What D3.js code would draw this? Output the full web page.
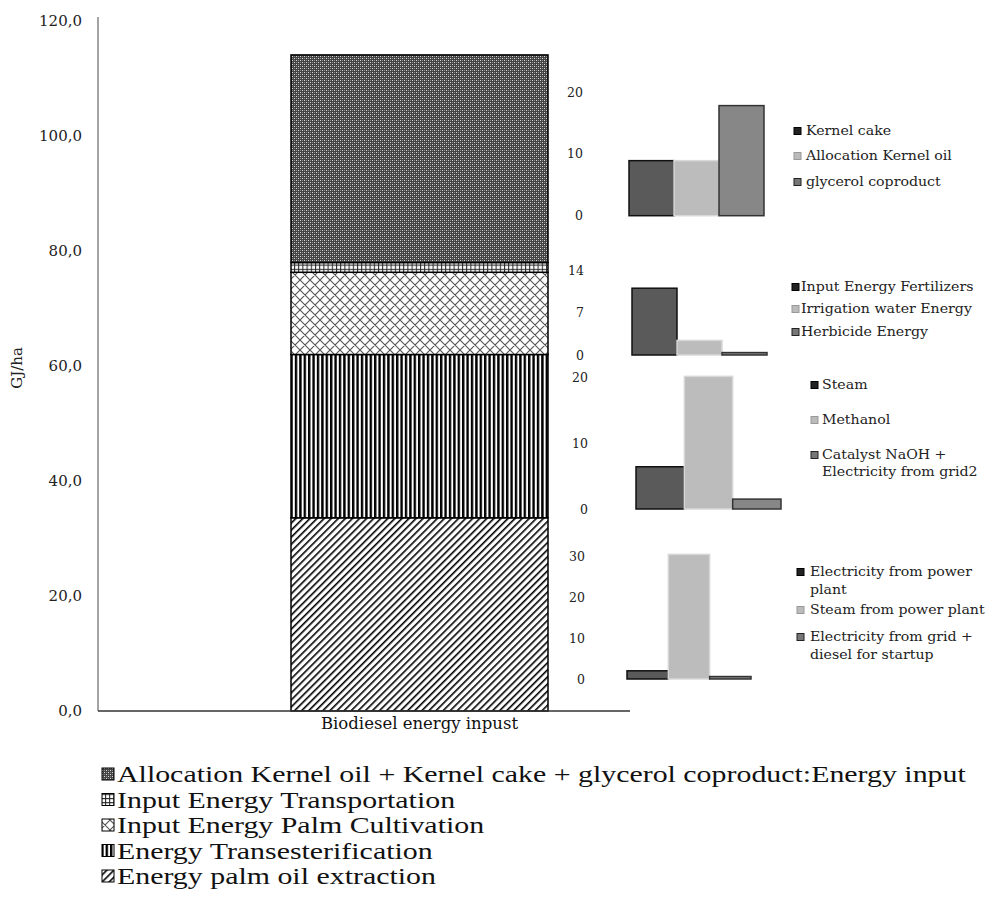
<!DOCTYPE html>
<html><head><meta charset="utf-8">
<script src="https://cdn.jsdelivr.net/npm/d3@7"></script>
<style>body{margin:0;background:#fff}svg{display:block}</style>
</head><body>
<svg id="c" width="985" height="921"></svg>
<script>
// ---------- DATA ----------
const category = ["Biodiesel energy inpust"];
const stackSeries = [
  "Energy palm oil extraction",
  "Energy Transesterification",
  "Input Energy Palm Cultivation",
  "Input Energy Transportation",
  "Allocation Kernel oil + Kernel cake + glycerol coproduct:Energy input"
];
const stackValues = [33.6, 28.4, 14.3, 1.7, 36.1];
const yTicks = [0, 20, 40, 60, 80, 100, 120];
const yLabel = "GJ/ha";

const inset1Labels = [["Kernel cake"], ["Allocation Kernel oil"], ["glycerol coproduct"]];
const inset1Values = [8.9, 8.9, 17.8];
const inset1Ticks = [0, 10, 20];

const inset2Labels = [["Input Energy Fertilizers"], ["Irrigation water Energy"], ["Herbicide Energy"]];
const inset2Values = [11.0, 2.4, 0.4];
const inset2Ticks = [0, 7, 14];

const inset3Labels = [["Steam"], ["Methanol"], ["Catalyst NaOH +", "Electricity from grid2"]];
const inset3Values = [6.4, 20.1, 1.5];
const inset3Ticks = [0, 10, 20];

const inset4Labels = [["Electricity from power", "plant"], ["Steam from power plant"], ["Electricity from grid +", "diesel for startup"]];
const inset4Values = [2.0, 30.4, 0.6];
const inset4Ticks = [0, 10, 20, 30];

// ---------- SETUP ----------
const svg = d3.select("#c");
const defs = svg.append("defs");
const serif = "'DejaVu Serif', serif";

function pat(id, w, h, build, transform) {
  const p = defs.append("pattern").attr("id", id).attr("patternUnits", "userSpaceOnUse")
    .attr("width", w).attr("height", h);
  if (transform) p.attr("patternTransform", transform);
  build(p);
}
// extraction: diagonal "/"
pat("pDiag", 5, 5, p => {
  p.append("rect").attr("width", 5).attr("height", 5).attr("fill", "#fff");
  p.append("rect").attr("width", 1.6).attr("height", 5).attr("fill", "#000");
}, "rotate(45)");
// transesterification: vertical lines
pat("pVert", 4.4, 4, p => {
  p.append("rect").attr("width", 4.4).attr("height", 4).attr("fill", "#fff");
  p.append("rect").attr("width", 2.4).attr("height", 4).attr("fill", "#000");
});
// cultivation: diagonal crosshatch
pat("pCross", 10, 10, p => {
  p.append("rect").attr("width", 10).attr("height", 10).attr("fill", "#fff");
  p.append("path").attr("d", "M0,0L10,10M10,0L0,10M-1,9L1,11M9,-1L11,1M9,11L11,9M-1,1L1,-1")
    .attr("stroke", "#555").attr("stroke-width", 1.1);
});
// transportation: small grid
pat("pGrid", 4.2, 4.2, p => {
  p.append("rect").attr("width", 4.2).attr("height", 4.2).attr("fill", "#fff");
  p.append("path").attr("d", "M0,0.5H4.2M0.5,0V4.2").attr("stroke", "#222").attr("stroke-width", 1);
});
// allocation: dense dark dots
pat("pDots", 4, 4, p => {
  p.append("rect").attr("width", 4).attr("height", 4).attr("fill", "#444");
  p.append("rect").attr("x", 0).attr("y", 0).attr("width", 1).attr("height", 1).attr("fill", "#d8d8d8");
  p.append("rect").attr("x", 2).attr("y", 2).attr("width", 1).attr("height", 1).attr("fill", "#d8d8d8");
  p.append("rect").attr("x", 2).attr("y", 0).attr("width", 1).attr("height", 1).attr("fill", "#8a8a8a");
  p.append("rect").attr("x", 0).attr("y", 2).attr("width", 1).attr("height", 1).attr("fill", "#8a8a8a");
});
const patterns = ["url(#pDiag)", "url(#pVert)", "url(#pCross)", "url(#pGrid)", "url(#pDots)"];

// ---------- MAIN CHART ----------
const y = d3.scaleLinear().domain([0, 120]).range([711, 21]);
const x = d3.scaleBand().domain(category).range([291, 548]).padding(0);

const yAxis = d3.axisLeft(y).tickValues(yTicks).tickSize(0).tickSizeOuter(0).tickPadding(16)
  .tickFormat(d => d.toFixed(1).replace(".", ","));
const gy = svg.append("g").attr("transform", "translate(98,0)").call(yAxis);
gy.select(".domain").attr("stroke", "#666").attr("stroke-width", 1.2).attr("d", `M0,${y(120) - 4}V${y(0)}`);
gy.selectAll("text").attr("font-family", serif).attr("font-size", 15).attr("fill", "#222");

svg.append("text").attr("transform", `translate(22,${y(60) + 2}) rotate(-90)`)
  .attr("text-anchor", "middle").attr("font-family", serif).attr("font-size", 15).attr("fill", "#222")
  .text(yLabel);

// stacked bar
const row = {cat: category[0]};
stackSeries.forEach((s, i) => row[s] = stackValues[i]);
const stacked = d3.stack().keys(stackSeries)([row]);
svg.append("g").selectAll("rect").data(stacked).join("rect")
  .attr("x", x(category[0]))
  .attr("width", x.bandwidth())
  .attr("y", d => y(d[0][1]))
  .attr("height", d => y(d[0][0]) - y(d[0][1]))
  .attr("fill", (d, i) => patterns[i])
  .attr("stroke", "#000").attr("stroke-width", 1.5);

// baseline
svg.append("line").attr("x1", 98).attr("x2", 630).attr("y1", y(0)).attr("y2", y(0))
  .attr("stroke", "#333").attr("stroke-width", 1.5);

svg.append("text").attr("x", x(category[0]) + x.bandwidth() / 2).attr("y", 729)
  .attr("text-anchor", "middle").attr("font-family", serif).attr("font-size", 16.5).attr("fill", "#111")
  .text(category[0]);

// ---------- INSETS ----------
const insetFill = ["#5a5a5a", "#bcbcbc", "#878787"];
const insetStroke = ["#111", "#d8d8d8", "#333"];
const markFill = ["#222", "#bbb", "#777"];
const markStroke = ["#000", "#999", "#222"];

function drawInset(labels, values, ticks, L) {
  const g = svg.append("g");
  const ys = d3.scaleLinear().domain([0, d3.max(ticks)]).range([L.base, L.top]);
  const xs = d3.scaleBand().domain(labels.map(l => l.join(" "))).range(L.xr).padding(0);
  g.selectAll("rect.b").data(values).join("rect").attr("class", "b")
    .attr("x", (d, i) => xs(labels[i].join(" ")))
    .attr("width", xs.bandwidth())
    .attr("y", d => ys(d))
    .attr("height", d => ys(0) - ys(d))
    .attr("fill", (d, i) => insetFill[i])
    .attr("stroke", (d, i) => insetStroke[i]).attr("stroke-width", 1.5);
  const ax = d3.axisLeft(ys).tickValues(ticks).tickSize(0).tickPadding(0).tickFormat(d3.format("d"));
  const ga = g.append("g").attr("transform", `translate(${L.tx},0)`).call(ax);
  ga.select(".domain").remove();
  ga.selectAll("text").attr("font-family", serif).attr("font-size", 12.5).attr("fill", "#222");
  labels.forEach((lines, i) => {
    const ry = L.rows[i];
    g.append("rect").attr("x", L.mx).attr("y", ry - 3.5).attr("width", 7).attr("height", 7)
      .attr("fill", markFill[i]).attr("stroke", markStroke[i]).attr("stroke-width", 1);
    lines.forEach((t, k) => {
      g.append("text").attr("transform", `translate(${L.lx},${ry + k * L.lh}) scale(1.18,1)`)
        .attr("dy", "0.35em")
        .attr("font-family", serif).attr("font-size", 12).attr("fill", "#222").text(t);
    });
  });
}

drawInset(inset1Labels, inset1Values, inset1Ticks,
  {base: 215.7, top: 92, xr: [629, 764], tx: 583, mx: 794, lx: 806, rows: [131, 156, 182], lh: 17});
drawInset(inset2Labels, inset2Values, inset2Ticks,
  {base: 355, top: 270, xr: [632, 767], tx: 584, mx: 792, lx: 801, rows: [287, 309, 332], lh: 17});
drawInset(inset3Labels, inset3Values, inset3Ticks,
  {base: 509, top: 377, xr: [636, 781], tx: 588, mx: 811, lx: 822, rows: [385, 420, 455], lh: 17});
drawInset(inset4Labels, inset4Values, inset4Ticks,
  {base: 679, top: 556, xr: [627, 751], tx: 585, mx: 797, lx: 810, rows: [572, 610, 637], lh: 18});

// ---------- BOTTOM LEGEND ----------
const legendItems = stackSeries.map((s, i) => ({s, p: patterns[i]})).reverse();
const lg = svg.append("g");
legendItems.forEach((d, i) => {
  const cy = 774 + i * 25.5;
  lg.append("rect").attr("x", 102).attr("y", cy - 6).attr("width", 12).attr("height", 12)
    .attr("fill", d.p).attr("stroke", "#000").attr("stroke-width", 1);
  lg.append("text").attr("transform", `translate(117,${cy}) scale(1.3,1)`).attr("dy", "0.35em")
    .attr("font-family", "'Liberation Serif', 'Times New Roman', serif").attr("font-size", 23)
    .attr("fill", "#111").text(d.s);
});
</script>
</body></html>
